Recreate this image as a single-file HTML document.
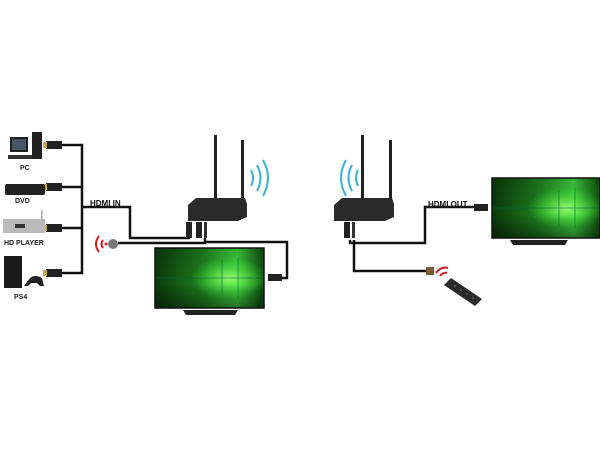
<!DOCTYPE html>
<html><head><meta charset="utf-8"><style>
html,body{margin:0;padding:0;background:#fff;width:600px;height:450px;overflow:hidden}
text{font-family:"Liberation Sans",sans-serif;font-weight:bold}
</style></head><body>
<svg width="600" height="450" viewBox="0 0 600 450" xmlns="http://www.w3.org/2000/svg">
<defs>
<linearGradient id="lg" x1="0" y1="0" x2="1" y2="0">
<stop offset="0" stop-color="#0b3a0b"/><stop offset="0.4" stop-color="#1d7a1d"/><stop offset="0.75" stop-color="#3fd23f"/><stop offset="1" stop-color="#0d4d0d"/>
</linearGradient>
<radialGradient id="rg" cx="0.68" cy="0.5" r="0.35">
<stop offset="0" stop-color="#a8ff7a" stop-opacity="0.9"/><stop offset="1" stop-color="#3f3" stop-opacity="0"/>
</radialGradient>
<linearGradient id="vg" x1="0" y1="0" x2="0" y2="1">
<stop offset="0" stop-color="#000" stop-opacity="0.15"/><stop offset="0.6" stop-color="#000" stop-opacity="0"/><stop offset="1" stop-color="#000" stop-opacity="0.45"/>
</linearGradient>
<g id="scr">
<rect width="109" height="60" fill="url(#lg)"/>
<rect width="109" height="60" fill="url(#rg)"/>
<rect width="109" height="60" fill="url(#vg)"/>
<path d="M0 30H109M67 12V48M83 10V50" stroke="#063" stroke-width="0.8" opacity="0.7"/>
</g>
</defs>
<g fill="none" stroke="#111" stroke-width="2.5">
<path d="M62 145H82V273H62M62 187H82M62 228H82M82 207H130V238H190"/>
<path d="M118 243H205V238M205 242H287V278H282"/>
<path d="M350 240V243H425V207H475"/>
<path d="M354 240V271H426"/>
</g>
<g fill="#222"><rect x="46" y="141" width="16" height="8"/><rect x="46" y="183" width="16" height="8"/><rect x="46" y="224" width="16" height="8"/><rect x="46" y="269" width="16" height="8"/></g>
<g fill="#c9a94a"><rect x="43" y="142" width="4" height="6"/><rect x="43" y="184" width="4" height="6"/><rect x="43" y="225" width="4" height="6"/><rect x="43" y="270" width="4" height="6"/></g>
<rect x="10" y="137" width="18" height="15" fill="#222"/><rect x="12" y="139" width="14" height="11" fill="#456"/><rect x="8" y="155" width="24" height="4" fill="#333"/><rect x="32" y="132" width="10" height="27" fill="#222"/>
<text x="20" y="170" font-size="7" fill="#222">PC</text>
<rect x="5" y="184" width="40" height="11" rx="2" fill="#222"/>
<text x="15" y="203" font-size="7" fill="#222">DVD</text>
<rect x="3" y="219" width="42" height="14" fill="#bbb"/><rect x="15" y="224" width="10" height="4" fill="#333"/><rect x="41" y="210" width="1.5" height="10" fill="#aaa"/>
<text x="4" y="245" font-size="7" fill="#222">HD PLAYER</text>
<rect x="4" y="256" width="18" height="32" fill="#1a1a1a"/><path d="M30 278q5-4 12 0l2 8h-4l-3-3h-6l-3 3h-4z" fill="#222"/>
<text x="14" y="299" font-size="7" fill="#222">PS4</text>
<text x="90" y="206" font-size="8" fill="#111">HDMI IN</text>
<text x="428" y="207" font-size="8" fill="#111">HDMI OUT</text>
<rect x="214" y="135" width="3" height="72" fill="#222"/><rect x="241" y="140" width="3" height="67" fill="#222"/>
<path d="M188 205L196 198H245L247 204V217L238 221H188z" fill="#2a2a2a"/>
<rect x="186" y="222" width="6" height="16" fill="#222"/><rect x="196" y="222" width="6" height="16" fill="#222"/><rect x="204" y="222" width="3" height="16" fill="#333"/>
<g fill="none" stroke="#3ab0d8" stroke-width="2"><path d="M251 170q4 8 0 16"/><path d="M257 165q7 13 0 26"/><path d="M263 160q10 18 0 36"/></g>
<circle cx="113" cy="244" r="5" fill="#777"/>
<g fill="none" stroke="#c22" stroke-width="2"><path d="M103 240q-3 4 0 8"/><path d="M99 236q-6 8 0 16"/></g><circle cx="106" cy="244" r="1.5" fill="#c22"/>
<use href="#scr" x="155" y="248"/>
<rect x="155" y="248" width="109" height="60" fill="none" stroke="#111" stroke-width="1.5"/>
<path d="M183 310H238L235 315H186z" fill="#222"/>
<rect x="268" y="274" width="14" height="7" fill="#222"/>
<rect x="361" y="135" width="3" height="72" fill="#222"/><rect x="389" y="140" width="3" height="67" fill="#222"/>
<path d="M334 205L342 198H392L394 204V217L385 221H334z" fill="#2a2a2a"/>
<rect x="344" y="222" width="6" height="16" fill="#222"/><rect x="352" y="222" width="3" height="16" fill="#333"/>
<g fill="none" stroke="#3ab0d8" stroke-width="2"><path d="M358 170q-4 8 0 16"/><path d="M352 165q-7 13 0 26"/><path d="M346 160q-10 18 0 36"/></g>
<rect x="474" y="204" width="14" height="7" fill="#222"/>
<rect x="426" y="267" width="8" height="8" fill="#7a5a3a"/>
<use href="#scr" x="492" y="178"/>
<rect x="492" y="178" width="108" height="60" fill="none" stroke="#111" stroke-width="1.5"/>
<path d="M510 240H568L565 245H513z" fill="#222"/>
<path d="M444 285L451 278L482 299L475 306z" fill="#2a2a2a"/>
<g fill="#888"><circle cx="455" cy="286" r="0.8"/><circle cx="461" cy="290" r="0.8"/><circle cx="467" cy="294" r="0.8"/><circle cx="473" cy="298" r="0.8"/></g>
<g fill="none" stroke="#c22" stroke-width="2"><path d="M440 276q3-4 7-3"/><path d="M436 273q5-7 12-5"/></g>
</svg>
</body></html>
